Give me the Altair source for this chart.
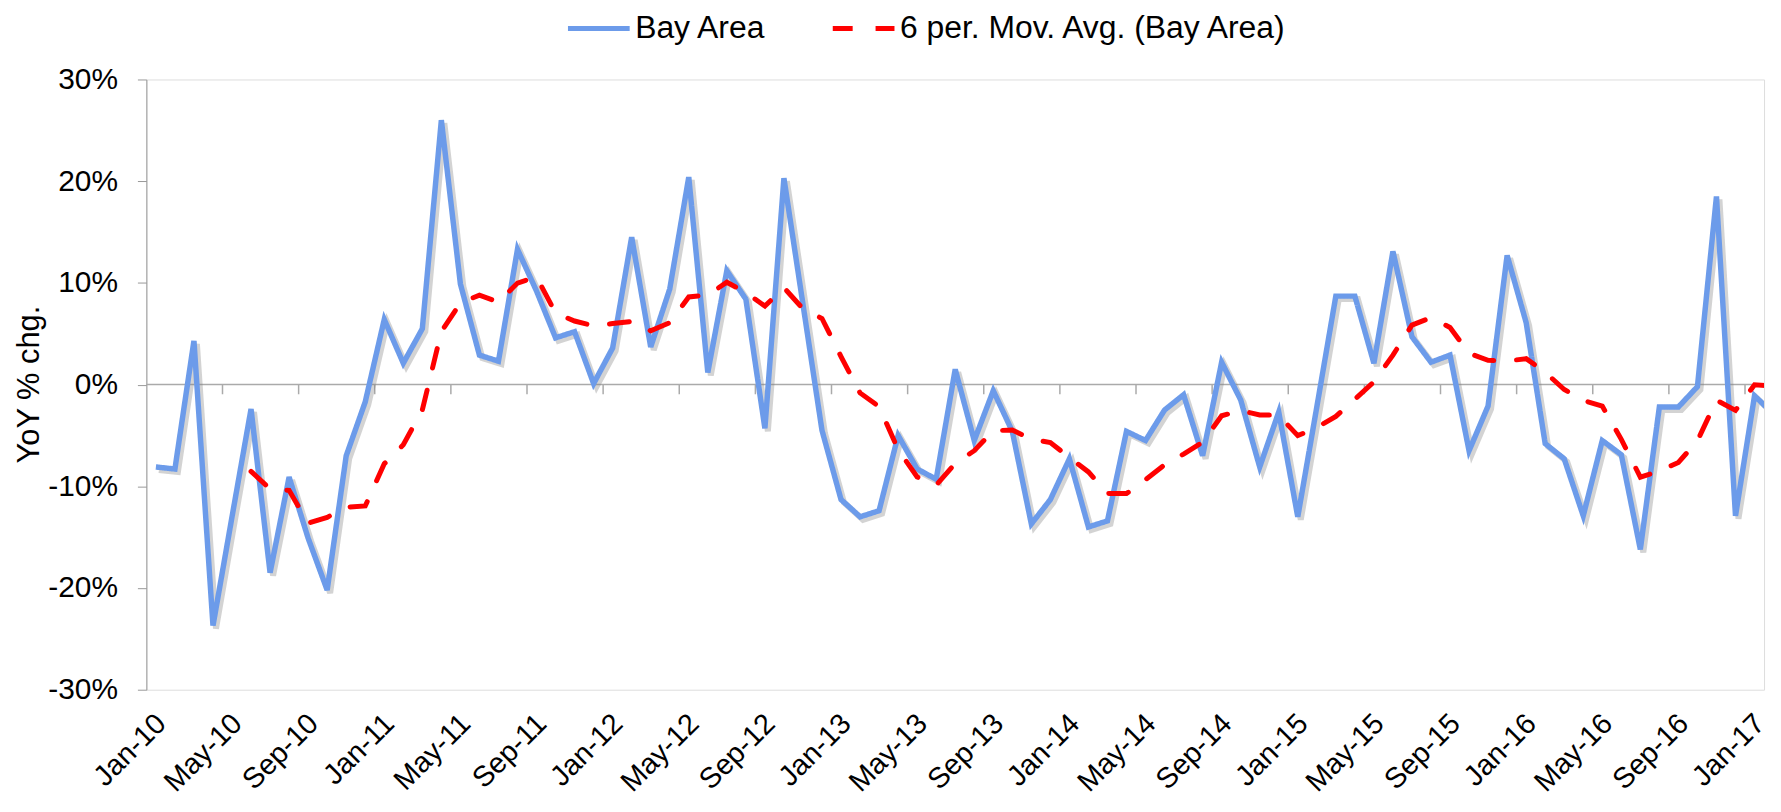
import altair as alt
import pandas as pd

# Year-over-year % change, Bay Area, monthly Jan-10 .. Feb-17 (Feb-17 only partly visible)
BAY = [
    -8.1, -8.3, 4.3, -23.7, -13.0, -2.4, -18.5, -9.1, -15.1, -20.2, -7.0, -1.7,   # 2010
    6.4, 2.1, 5.5, 26.0, 9.9, 2.9, 2.3, 13.3, 9.2, 4.6, 5.2, 0.1,                 # 2011
    3.6, 14.5, 3.7, 9.4, 20.4, 1.2, 11.2, 8.4, -4.3, 20.3, 7.9, -4.5,             # 2012
    -11.3, -13.0, -12.4, -5.0, -8.3, -9.3, 1.5, -5.5, -0.6, -4.6, -13.7, -11.3,   # 2013
    -7.3, -14.0, -13.4, -4.6, -5.5, -2.5, -1.0, -7.0, 2.2, -1.5, -8.1, -2.7,      # 2014
    -13.0, -2.2, 8.7, 8.7, 2.1, 13.1, 4.7, 2.2, 2.9, -6.5, -2.1, 12.7,            # 2015
    6.1, -5.8, -7.3, -12.9, -5.5, -6.9, -16.2, -2.2, -2.2, -0.2, 18.5, -12.9,     # 2016
    -1.1, -2.9,                                                                   # 2017
]
TICK_LABELS = ["Jan-10", "May-10", "Sep-10", "Jan-11", "May-11", "Sep-11", "Jan-12",
               "May-12", "Sep-12", "Jan-13", "May-13", "Sep-13", "Jan-14", "May-14",
               "Sep-14", "Jan-15", "May-15", "Sep-15", "Jan-16", "May-16", "Sep-16",
               "Jan-17"]
SERIES = ["Bay Area", "6 per. Mov. Avg. (Bay Area)"]
N_CATS = 85  # visible categories Jan-10 .. Jan-17

FONT = "Liberation Sans"

df = pd.DataFrame({"pos": [i + 0.5 for i in range(len(BAY))],
                   "v": [b / 100 for b in BAY]})
bounds = pd.DataFrame({"b": list(range(4, N_CATS, 4))})

label_arr = "[" + ",".join(f"'{t}'" for t in TICK_LABELS) + "]"

xscale = alt.Scale(domain=[0, N_CATS], nice=False, zero=False)
yscale = alt.Scale(domain=[-0.3, 0.3], nice=False)

xaxis = alt.Axis(
    values=[4 * k + 0.5 for k in range(len(TICK_LABELS))],
    labelExpr=label_arr + "[floor(datum.value / 4)]",
    domain=False, ticks=False, grid=False, title=None,
    labelAngle=-45, labelAlign="right", labelBaseline="top",
    labelFontSize=29, labelFont=FONT, labelColor="black",
    labelPadding=19, labelOffset=-5, labelOverlap=False, labelBound=False,
)
yaxis = alt.Axis(
    values=[-0.3, -0.2, -0.1, 0, 0.1, 0.2, 0.3],
    labelExpr="round(datum.value * 100) + '%'",
    grid=False, domainColor="#999999", tickColor="#999999", tickSize=9,
    labelFontSize=30, labelFont=FONT, labelColor="black", labelPadding=20,
    title="YoY % chg.", titleFontSize=31, titleFont=FONT, titleFontWeight="normal",
    titleColor="black", titleX=-117, titleY=306, titleAngle=-90,
    titleAlign="center", titleBaseline="middle",
)

X = alt.X("pos:Q", scale=xscale, axis=xaxis)

color_scale = alt.Scale(domain=SERIES, range=["#6C9BEA", "#FF0000"])
dash_scale = alt.Scale(domain=SERIES, range=[[1, 0], [20, 23]])
legend = alt.Legend(
    title=None, orient="none", legendX=421, legendY=-85, direction="horizontal",
    symbolType="stroke", symbolSize=3844, symbolStrokeWidth=5,
    labelFontSize=32, labelFont=FONT, labelColor="black", labelLimit=0,
    columnPadding=56, labelOffset=3,
)
COLOR = alt.Color("series:N", scale=color_scale, legend=legend)
DASH = alt.StrokeDash("series:N", scale=dash_scale, legend=legend)

base = alt.Chart(df)

zero_rule = alt.Chart(pd.DataFrame({"z": [0]})).mark_rule(
    color="#aaaaaa", strokeWidth=1.5
).encode(y=alt.Y("z:Q", scale=yscale, axis=yaxis))

ticks = alt.Chart(bounds).mark_rule(color="#aaaaaa", strokeWidth=1.5).encode(
    x=alt.X("b:Q", scale=xscale, axis=xaxis),
    y=alt.datum(0),
    y2=alt.datum(-0.0095),
)

shadow = base.mark_line(
    color="#808080", opacity=0.35, strokeWidth=6, xOffset=3, yOffset=3, clip=True
).encode(x=X, y=alt.Y("v:Q", scale=yscale, axis=yaxis))

bay_line = base.transform_calculate(series=f"'{SERIES[0]}'").mark_line(
    strokeWidth=5.5, clip=True
).encode(
    x=X,
    y=alt.Y("v:Q", scale=yscale, axis=yaxis),
    color=COLOR,
    strokeDash=DASH,
)

ma_line = base.transform_window(
    ma="mean(v)", n="count()", frame=[-5, 0], sort=[alt.SortField("pos")]
).transform_filter("datum.n == 6").transform_calculate(
    series=f"'{SERIES[1]}'"
).mark_line(strokeWidth=5, strokeCap="round", clip=True).encode(
    x=X,
    y=alt.Y("ma:Q", scale=yscale, axis=yaxis),
    color=COLOR,
    strokeDash=DASH,
)

chart = alt.layer(zero_rule, ticks, shadow, bay_line, ma_line).properties(
    width=1625, height=613,
    autosize=alt.AutoSizeParams(type="none"),
    padding={"left": 139, "top": 70, "right": 9, "bottom": 113},
    background="white",
).configure_view(stroke=None).configure(font=FONT)

chart.save("out.html", embed_options={"renderer": "svg", "actions": False})
